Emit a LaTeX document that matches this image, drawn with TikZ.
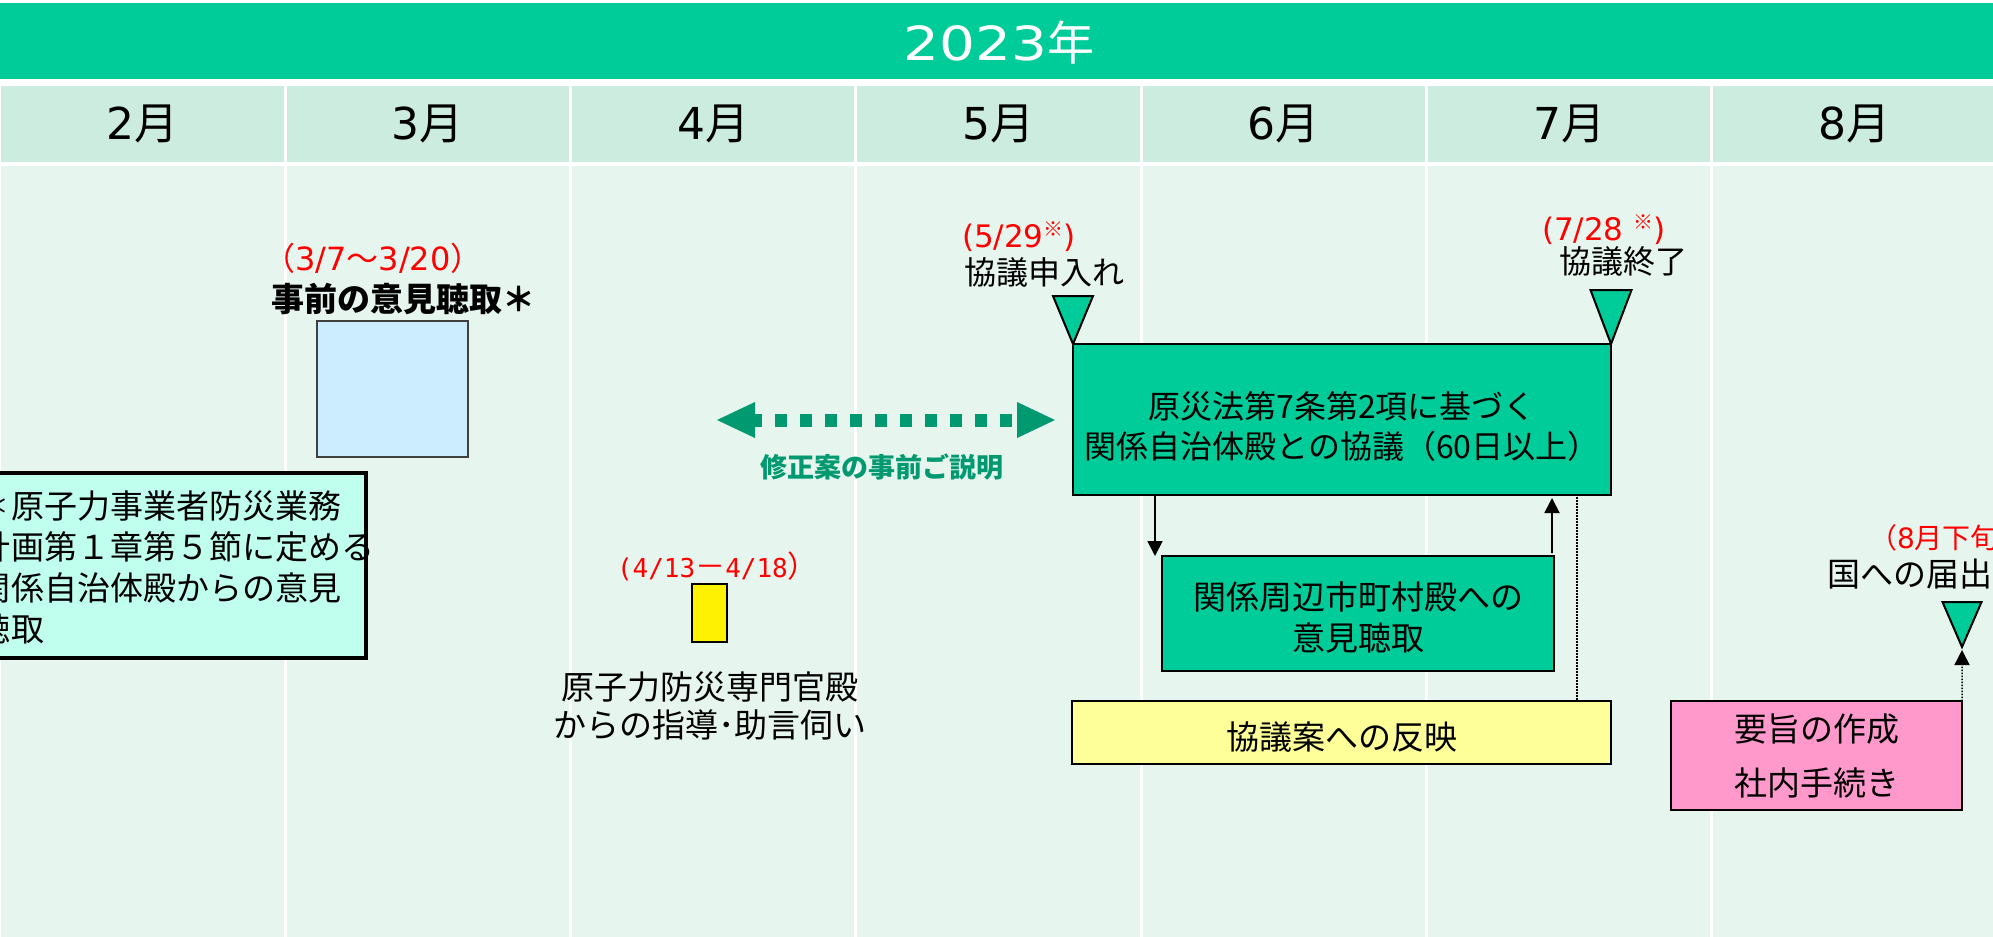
\documentclass[tikz,border=0pt]{standalone}
\usepackage{fontspec}
\setmainfont{Noto Sans CJK JP}
\newfontfamily\dv{DejaVu Sans}
\newfontfamily\dvm{DejaVu Sans Mono}
\usetikzlibrary{calc,arrows.meta}
\definecolor{topgreen}{HTML}{00CC99}
\definecolor{monthbg}{HTML}{CCECE0}
\definecolor{bodybg}{HTML}{E6F5EE}
\definecolor{dkgreen}{HTML}{009970}
\definecolor{cyanbox}{HTML}{C0FFEE}
\definecolor{bluebox}{HTML}{CCECFF}
\definecolor{lightyel}{HTML}{FFFF99}
\definecolor{pinkbox}{HTML}{FF99CC}
\newcommand{\fsz}[2]{\fontsize{#1bp}{#2bp}\selectfont}
\newcommand{\kome}{\raisebox{0.35em}{\fsz{20}{20}※}}
\begin{document}
\begin{tikzpicture}[x=1bp,y=-1bp,
  every node/.style={inner sep=0pt, outer sep=0pt},
  lbl/.style={font=\fsz{32}{40}, align=center},
  redlbl/.style={font=\fsz{31}{34}, text=red},
  boxed/.style={draw=black, line width=2bp, inner sep=0pt, align=center},
  tri/.style={draw=black, line width=2bp, fill=topgreen, line join=miter},
  arr/.style={line width=1.8bp, -{Triangle[length=15bp,width=15bp]}},
  dotl/.style={line width=1.5bp, dash pattern=on 1.5bp off 1.5bp},
]
\useasboundingbox (0,0) rectangle (1993,937);
\fill[white] (0,0) rectangle (1993,937);
% year bar
\fill[topgreen] (0,3) rectangle (1993,79);
\node[text=white, font=\fsz{47}{50}] (year) at (999,43)
  {\scalebox{1.2}[1]{\dv 2023}年};
% month columns
\foreach \m [count=\i from 0] in {2,3,4,5,6,7,8}{
  \pgfmathsetmacro{\xa}{285.3*\i+1.5}
  \pgfmathsetmacro{\xb}{min(285.3*(\i+1)-1.5,1993)}
  \fill[monthbg] (\xa,86) rectangle (\xb,162);
  \fill[bodybg] (\xa,166) rectangle (\xb,937);
  \node[font=\fsz{44}{48}] (m\m) at ({285.3*\i+142.6},124) {{\dv\m}月};
}
% left note box (cut by left edge)
\node[draw=black, line width=4bp, fill=cyanbox, minimum width=426bp, minimum height=185bp] (cyan) at (153,565.5) {};
\node[anchor=west, align=left, font=\fsz{33}{41}] (cyantxt) at (-22,567)
  {＊原子力事業者防災業務\\計画第１章第５節に定める\\関係自治体殿からの意見\\聴取};
% pre-hearing
\node[redlbl, font=\fsz{32}{34}] (d1) at (373,258) {（{\dv 3/7}～{\dv 3/20}）};
\node[font=\bfseries\fsz{33}{36}] (pre) at (403,299) {事前の意見聴取＊};
\node[draw=black!75, line width=1.5bp, fill=bluebox, minimum width=151bp, minimum height=136bp] (blue) at (392.5,389) {};
% April
\node[font=\fsz{26}{30}, text=red, anchor=west] (d2) at (617,566) {{\dvm (4/13}{\fsz{30}{30}－}{\dvm 4/18}{\fsz{30}{30}）}};
\node[draw=black, line width=2bp, fill=yellow, minimum width=35bp, minimum height=58bp] (ysmall) at (709.5,613) {};
\node[font=\fsz{33}{38}, align=center] (advice) at (710,706) {原子力防災専門官殿\\からの指導･助言伺い};
% dotted double arrow
\coordinate (dl) at (717,420);
\coordinate (dr) at (1055,420);
\fill[dkgreen] (dl) -- ++(38,-18) -- ++(0,36) -- cycle;
\fill[dkgreen] (dr) -- ++(-38,-18) -- ++(0,36) -- cycle;
\draw[dkgreen, line width=13bp, dash pattern=on 12bp off 13bp, dash phase=5bp] ($(dl)+(38,0)$) -- ($(dr)+(-38,0)$);
\node[font=\bfseries\fsz{27}{30}, text=dkgreen] (expl) at (882,467) {修正案の事前ご説明};
% main consultation box
\node[boxed, fill=topgreen, minimum width=538bp, minimum height=151bp] (main) at (1342,419.5) {};
\node[lbl] (maintxt) at (1342,427) {原災法第7条第2項に基づく\\関係自治体殿との協議（60日以上）};
\filldraw[tri] (main.north west) -- ++(-20,-48) -- ++(40,0) -- cycle;
\filldraw[tri] (main.north east) -- ++(-20.5,-54) -- ++(41,0) -- cycle;
\node[redlbl, anchor=west] (d3) at (962,237) {{\dv (5/29}\kome{\dv )}};
\node[lbl] (start) at (1044,272) {協議申入れ};
\node[redlbl, anchor=west] (d4) at (1542,230) {{\dv (7/28 }\kome{\dv )}};
\node[lbl] (end) at (1623,261) {協議終了};
% sub box
\node[boxed, fill=topgreen, minimum width=392bp, minimum height=115bp] (sub) at (1358,613.5) {};
\node[font=\fsz{33}{41}, align=center] (subtxt) at (1358,617) {関係周辺市町村殿への\\意見聴取};
\draw[arr] ($(main.south west)+(82,0)$) -- ($(sub.north west)+(-7,0)$);
\draw[arr] ($(sub.north east)+(-2,-3)$) -- ($(main.south east)+(-59,3)$);
% reflection box
\node[boxed, fill=lightyel, minimum width=539bp, minimum height=63bp] (yel) at (1341.5,732.5) {};
\node[font=\fsz{33}{40}] (yeltxt) at (1341.5,737) {協議案への反映};
\draw[dotl] ($(main.south east)+(-34,2)$) -- ($(yel.north east)+(-34,0)$);
% pink box
\node[boxed, fill=pinkbox, minimum width=291bp, minimum height=109bp, font=\fsz{33}{54}] (pink) at (1816.5,755.5) {要旨の作成\\社内手続き};
\coordinate (t3) at (1962,647);
\filldraw[tri] (t3) -- ++(-19.5,-45) -- ++(39,0) -- cycle;
\draw[dotl, -{Triangle[length=15bp,width=15bp]}] (pink.north east) -- ($(t3)+(0,3)$);
\node[anchor=west, font=\fsz{28}{30}, text=red] (d5) at (1869,538) {（{\dv 8}月下旬};
\node[anchor=west, font=\fsz{33}{36}] (notify) at (1827,574) {国への届出、};
\end{tikzpicture}
\end{document}
